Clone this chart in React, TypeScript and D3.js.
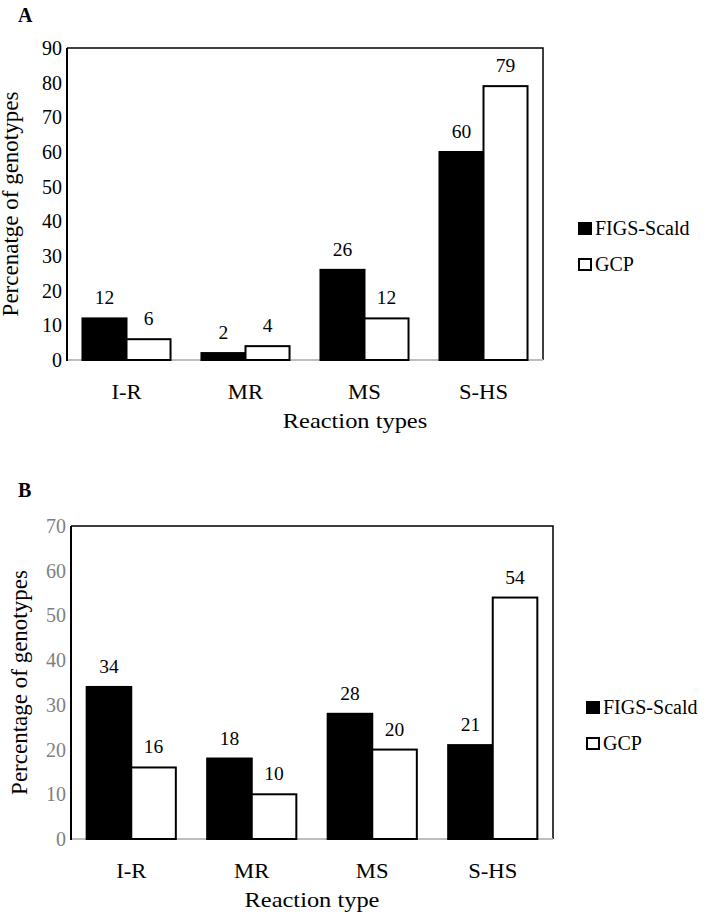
import React from 'react';
import * as d3 from 'd3';

// Reaction type categories (shared by both panels)
const categories = ['I-R', 'MR', 'MS', 'S-HS'];
const seriesNames = ['FIGS-Scald', 'GCP'];

// Panel A values
const figsA = [12, 2, 26, 60];
const gcpA = [6, 4, 12, 79];
const ticksA = [0, 10, 20, 30, 40, 50, 60, 70, 80, 90];

// Panel B values
const figsB = [34, 18, 28, 21];
const gcpB = [16, 10, 20, 54];
const ticksB = [0, 10, 20, 30, 40, 50, 60, 70];

const FONT = "'Liberation Serif'";
const txt = { fontFamily: FONT };

// horizontal text, slightly widened like the source figure
const Wide: React.FC<{ x: number; y: number; size: number; sx?: number; children: React.ReactNode }> = ({
  x,
  y,
  size,
  sx = 1.1,
  children,
}) => (
  <g transform={`translate(${x},${y}) scale(${sx},1)`}>
    <text x={0} y={0} textAnchor="middle" fontSize={size} style={txt}>
      {children}
    </text>
  </g>
);

interface PanelProps {
  letter: string;
  letterY: number;
  left: number;
  right: number;
  top: number;
  bottom: number;
  yMax: number;
  ticks: number[];
  tickColor: string;
  figs: number[];
  gcp: number[];
  yTitle: string;
  yTitleX: number;
  xTitle: string;
  xTitleX: number;
  legendX: number;
  legendY: number;
}

const Panel: React.FC<PanelProps> = o => {
  const x0 = d3
    .scaleBand<string>()
    .domain(categories)
    .range([o.left, o.right])
    .paddingInner(0.26)
    .paddingOuter(0.13);

  const x1 = d3.scaleBand<string>().domain(seriesNames).range([0, x0.bandwidth()]);

  const y = d3.scaleLinear().domain([0, o.yMax]).range([o.bottom, o.top]);

  const rows = categories.map((c, i) => ({ cat: c, vals: [o.figs[i], o.gcp[i]] }));

  return (
    <g>
      {/* panel letter */}
      <text x={18} y={o.letterY} fontSize={20} fontWeight="bold" style={txt}>
        {o.letter}
      </text>

      {/* frame: top + right */}
      <path
        d={`M${o.left},${o.top}H${o.right}V${o.bottom}`}
        fill="none"
        stroke="#000"
        strokeWidth={1.5}
      />
      {/* bottom axis line (grey) */}
      <line x1={o.left} x2={o.right} y1={o.bottom} y2={o.bottom} stroke="#bdbdbd" strokeWidth={2} />

      {/* y tick labels */}
      {o.ticks.map(t => (
        <text
          key={t}
          x={o.left - 5}
          y={y(t)}
          dy="0.35em"
          textAnchor="end"
          fontSize={20}
          fill={o.tickColor}
          style={txt}
        >
          {t}
        </text>
      ))}

      {/* bars + value labels */}
      {rows.map(r =>
        r.vals.map((v, j) => {
          const bx = (x0(r.cat) as number) + (x1(seriesNames[j]) as number);
          const w = x1.bandwidth();
          return (
            <g key={r.cat + j}>
              <rect
                x={bx}
                y={y(v)}
                width={w}
                height={o.bottom - y(v)}
                fill={j === 0 ? '#000' : '#fff'}
                stroke="#000"
                strokeWidth={2}
              />
              <text x={bx + w / 2} y={y(v) - 14} textAnchor="middle" fontSize={19.5} style={txt}>
                {v}
              </text>
            </g>
          );
        })
      )}

      {/* left axis line (black) */}
      <line x1={o.left} x2={o.left} y1={o.top} y2={o.bottom + 1} stroke="#000" strokeWidth={2} />

      {/* x category labels */}
      {categories.map(c => (
        <Wide key={c} x={(x0(c) as number) + x0.bandwidth() / 2} y={o.bottom + 39} size={21} sx={1.08}>
          {c}
        </Wide>
      ))}

      {/* axis titles */}
      <Wide x={o.xTitleX} y={o.bottom + 68} size={22} sx={1.11}>
        {o.xTitle}
      </Wide>
      <text
        transform={`translate(${o.yTitleX},${(o.top + o.bottom) / 2}) rotate(-90)`}
        textAnchor="middle"
        fontSize={23}
        style={txt}
      >
        {o.yTitle}
      </text>

      {/* legend */}
      {seriesNames.map((s, i) => {
        const ly = o.legendY + i * 36;
        return (
          <g key={s}>
            <rect
              x={o.legendX + 1}
              y={ly + 1}
              width={12}
              height={11}
              fill={i === 0 ? '#000' : '#fff'}
              stroke="#000"
              strokeWidth={2}
            />
            <text x={o.legendX + 17} y={ly + 12.5} fontSize={20} style={txt}>
              {s}
            </text>
          </g>
        );
      })}
    </g>
  );
};

const App: React.FC = () => (
  <div style={{ position: 'absolute', left: 0, top: 0, background: '#fff' }}>
    <svg width={710} height={921} style={{ display: 'block' }}>
      <Panel
        letter="A"
        letterY={22}
        left={67}
        right={543}
        top={48}
        bottom={360}
        yMax={90}
        ticks={ticksA}
        tickColor="#000"
        figs={figsA}
        gcp={gcpA}
        yTitle="Percenatge of genotypes"
        yTitleX={18}
        xTitle="Reaction types"
        xTitleX={355}
        legendX={578}
        legendY={222}
      />
      <Panel
        letter="B"
        letterY={497}
        left={71}
        right={553}
        top={526}
        bottom={839}
        yMax={70}
        ticks={ticksB}
        tickColor="#7f7f7f"
        figs={figsB}
        gcp={gcpB}
        yTitle="Percentage of genotypes"
        yTitleX={27}
        xTitle="Reaction type"
        xTitleX={312}
        legendX={586}
        legendY={701}
      />
    </svg>
  </div>
);

export default App;
